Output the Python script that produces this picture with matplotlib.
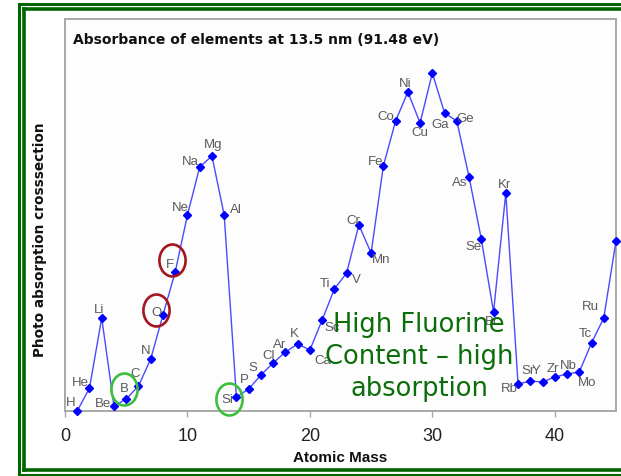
import matplotlib
matplotlib.use("Agg")
import matplotlib.pyplot as plt
from matplotlib.path import Path
from matplotlib.transforms import Affine2D, ScaledTranslation
from matplotlib.lines import Line2D

# data (y in arbitrary units)
elements = ['H', 'He', 'Li', 'Be', 'B', 'C', 'N', 'O', 'F', 'Ne',
            'Na', 'Mg', 'Al', 'Si', 'P', 'S', 'Cl', 'Ar', 'K', 'Ca',
            'Sc', 'Ti', 'V', 'Cr', 'Mn', 'Fe', 'Co', 'Ni', 'Cu', 'Zn',
            'Ga', 'Ge', 'As', 'Se', 'Br', 'Kr', 'Rb', 'Sr', 'Y', 'Zr',
            'Nb', 'Mo', 'Tc', 'Ru', 'Rh']
mass = [1, 2, 3, 4, 5, 6, 7, 8, 9, 10,
        11, 12, 13, 14, 15, 16, 17, 18, 19, 20,
        21, 22, 23, 24, 25, 26, 27, 28, 29, 30,
        31, 32, 33, 34, 35, 36, 37, 38, 39, 40,
        41, 42, 43, 44, 45]
absorb = [0.0, 2.3, 9.3, 0.5, 1.2, 2.5, 5.2, 9.6, 13.9, 19.6,
          24.4, 25.5, 19.6, 1.4, 2.2, 3.6, 4.8, 5.9, 6.7, 6.1,
          9.1, 12.2, 13.8, 18.6, 15.8, 24.5, 29.0, 31.9, 28.8, 33.8,
          29.8, 29.0, 23.4, 17.2, 9.9, 21.8, 2.7, 3.0, 2.9, 3.4,
          3.7, 3.9, 6.8, 9.3, 17.0]
xticks = [0, 10, 20, 30, 40]
red_marked = ['O', 'F']
green_marked = ['B', 'Si']

# where each label sits relative to its point (pixels, up = +)
lab_off = {'H': (-7, 8), 'He': (-9, 5), 'Li': (-3, 8), 'Be': (-11, 2), 'B': (-2, 10),
           'C': (-3, 12), 'N': (-5, 8), 'O': (-6, 2), 'F': (-5, 7), 'Ne': (-7, 7),
           'Na': (-9, 5), 'Mg': (1, 11), 'Al': (12, 5), 'Si': (-9, -3), 'P': (-4, 9),
           'S': (-8, 7), 'Cl': (-5, 7), 'Ar': (-6, 7), 'K': (-3, 10), 'Ca': (13, -11),
           'Sc': (10, -8), 'Ti': (-9, 5), 'V': (10, -7), 'Cr': (-6, 4), 'Mn': (10, -7),
           'Fe': (-8, 4), 'Co': (-10, 4), 'Ni': (-3, 8), 'Cu': (0, -10), 'Ga': (-4, -12),
           'Ge': (8, 2), 'As': (-9, -6), 'Se': (-8, -8), 'Br': (-2, -10), 'Kr': (-1, 8),
           'Rb': (-9, -5), 'Sr': (-2, 10), 'Y': (-6, 11), 'Zr': (-2, 8), 'Nb': (1, 8),
           'Mo': (8, -11), 'Tc': (-6, 9), 'Ru': (-13, 11)}
ring_off = {'O': (-7, 5), 'F': (-3, 12), 'B': (-2, 10), 'Si': (-7, -2)}

W, H = 621, 476
fig = plt.figure(figsize=(W / 100, H / 100), dpi=100)
fig.patch.set_facecolor('white')

def fx(px):
    return px / W

def fy(py):
    return 1 - py / H

# green double border of the slide
green = '#006600'
for x0, y0, y1, lw in [(18.5, 3.5, 474.5, 2.2), (23.7, 9, 470.3, 2.6)]:
    fig.add_artist(Line2D([fx(x0), fx(x0)], [fy(y0), fy(y1)], color=green, lw=lw))
    fig.add_artist(Line2D([fx(x0), 1.01], [fy(y0), fy(y0)], color=green, lw=lw))
    fig.add_artist(Line2D([fx(x0), 1.01], [fy(y1), fy(y1)], color=green, lw=lw))

ax = fig.add_axes([fx(65), fy(411), fx(616) - fx(65), fy(19) - fy(411)])
ax.set_facecolor('#fdfdfd')
for s in ax.spines.values():
    s.set_color('#a8a8a8')
    s.set_linewidth(1.4)

ax.plot(mass, absorb, color='#4a4aff', lw=1.0, zorder=3, clip_on=False)
ax.plot(mass, absorb, ls='none', marker='D', ms=4.0, color='#0000ff', zorder=4, clip_on=False)

for el, m, a in zip(elements, mass, absorb):
    if el in lab_off:
        ax.annotate(el, (m, a), xytext=lab_off[el], textcoords='offset pixels',
                    ha='center', va='center', fontsize=9.5, color='#5a5a5a',
                    family=['Liberation Sans', 'DejaVu Sans'], zorder=5)

# rings around some labels
ring = Path.unit_circle().transformed(Affine2D().scale(0.82, 1.0))
for names, col in [(red_marked, '#a3161e'), (green_marked, '#3cbf3c')]:
    for el in names:
        i = elements.index(el)
        dx, dy = ring_off[el]
        tr = ax.transData + ScaledTranslation(dx / 100, dy / 100, fig.dpi_scale_trans)
        ax.plot([mass[i]], [absorb[i]], marker=ring, ms=23, mfc='none', mec=col,
                mew=1.9, transform=tr, zorder=6, clip_on=False)

ax.set_xlim(0, 45)
ax.set_ylim(0, 39.2)
ax.set_xticks(xticks)
ax.set_yticks([])
ax.tick_params(axis='x', direction='out', length=4, width=1, color='#a8a8a8',
               pad=8, labelsize=13, labelcolor='#222222')
for t in ax.get_xticklabels():
    t.set_family(['Liberation Sans', 'DejaVu Sans'])

ax.text(8 / 551, 1 - 21 / 392, 'Absorbance of elements at 13.5 nm (91.48 eV)',
        transform=ax.transAxes, ha='left', va='center', fontsize=10,
        fontweight='bold', color='#111111')

fig.text(fx(40), fy(240), 'Photo absorption crosssection', rotation=90,
         ha='center', va='center', fontsize=9.8, fontweight='bold', color='#111111')
fig.text(fx(340), fy(458.5), 'Atomic Mass', ha='center', va='center', fontsize=11,
         fontweight='bold', color='#111111',
         family=['Liberation Sans Narrow', 'Liberation Sans', 'DejaVu Sans'])

fig.text(fx(419), fy(356.5), 'High Fluorine\nContent \u2013 high\nabsorption',
         ha='center', va='center', fontsize=18.5, color='#0b6e0b', linespacing=1.3,
         zorder=10)

fig.savefig('out.png', dpi=100)
